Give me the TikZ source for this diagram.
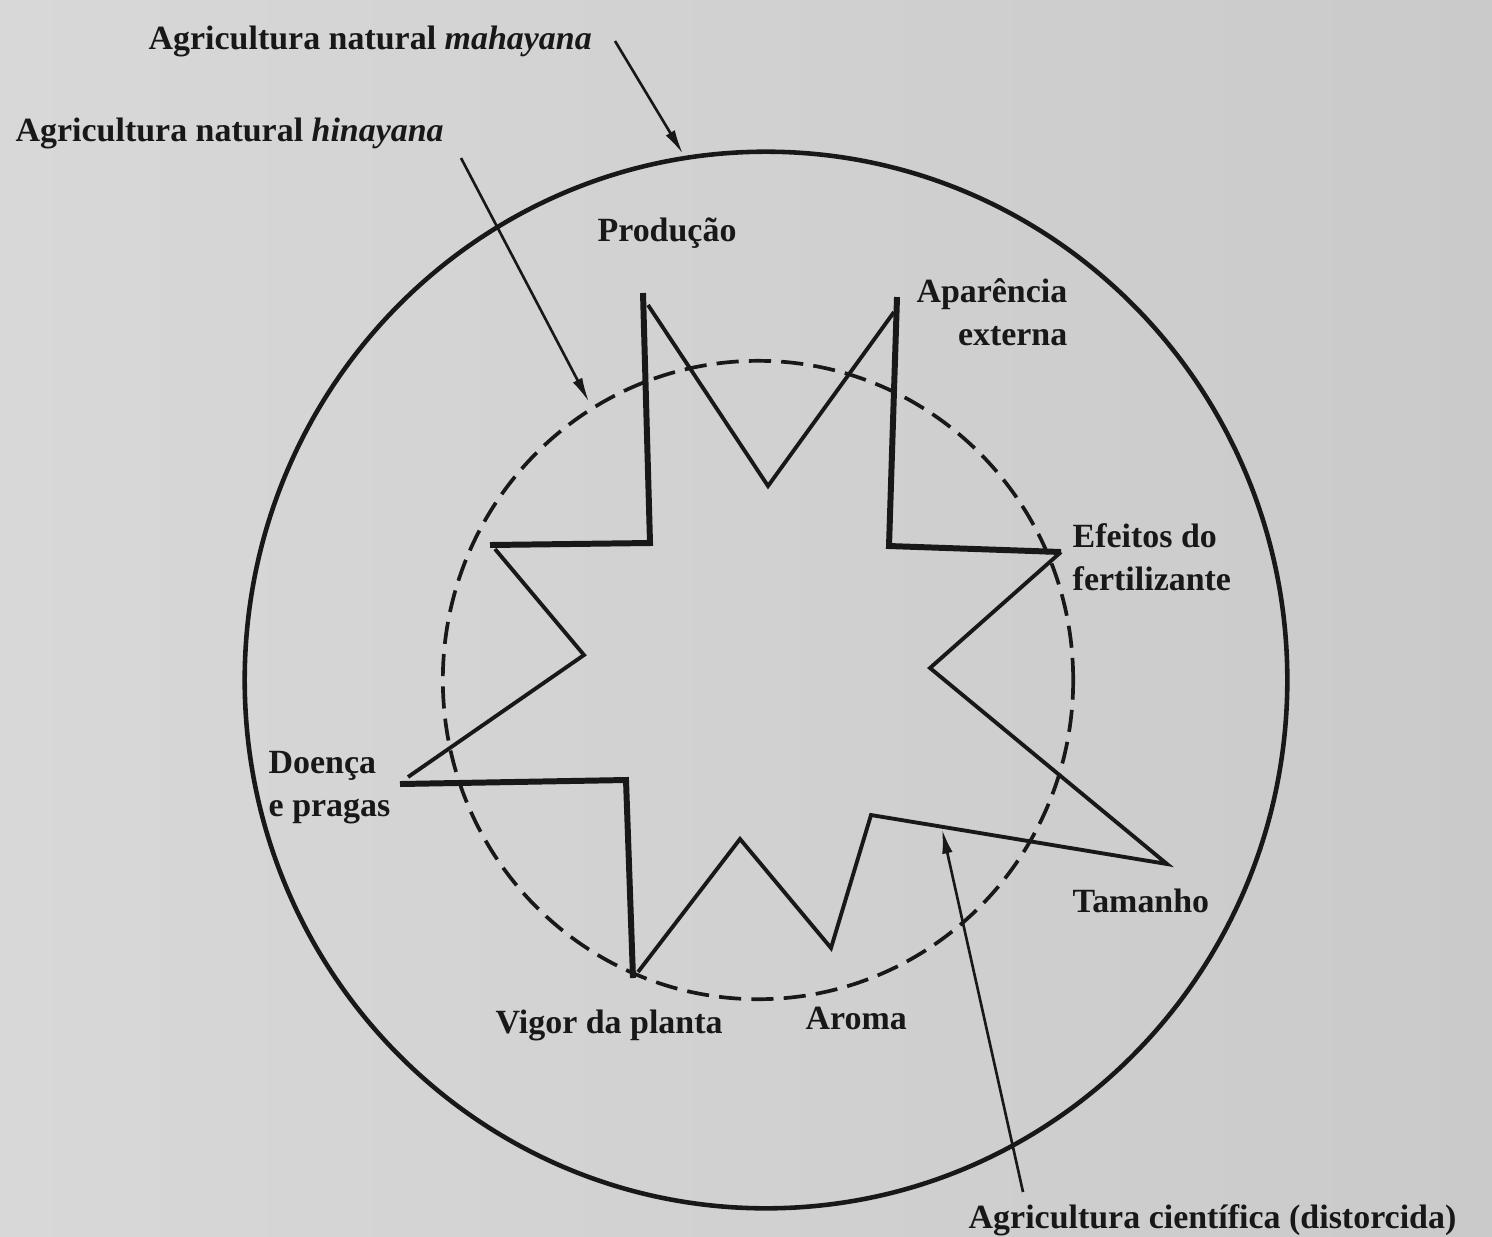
\documentclass[tikz,border=0pt]{standalone}
\usepackage{fontspec}
\setmainfont{Liberation Serif}
\usetikzlibrary{arrows.meta}
\definecolor{paper}{RGB}{216,216,216}
\definecolor{paperdark}{RGB}{202,202,202}
\definecolor{ink}{RGB}{24,24,24}
\tikzset{
  lbl/.style={inner sep=0pt, text=ink, font=\fontsize{9.65}{12.2}\selectfont\bfseries},
  outerring/.style={line width=1.3pt, draw=ink},
  innerring/.style={line width=1.05pt, draw=ink, dash pattern=on 6.3pt off 2.9pt},
  thinedge/.style={line width=1.1pt, draw=ink, line join=miter},
  thickedge/.style={line width=1.7pt, draw=ink, line join=miter},
  pointer/.style={line width=0.75pt, draw=ink, -{Latex[length=7pt,width=3pt]}}
}
\begin{document}
\begin{tikzpicture}[x=0.01cm, y=-0.01cm]
% page
\shade[left color=paper, right color=paperdark] (0,0) rectangle (1492,1236);
\useasboundingbox (0,0) rectangle (1492,1236);

% the two rings
\draw[outerring] (766,680) ellipse [x radius=5.21cm, y radius=5.28cm];
\draw[innerring] (758,680) ellipse [x radius=3.15cm, y radius=3.19cm];

% corners of the distorted star
\coordinate (p1) at (643,293);
\coordinate (p2) at (650,543);
\coordinate (p3) at (490,545);
\coordinate (p3b) at (495,549);
\coordinate (p4) at (584,655);
\coordinate (p5) at (408,777);
\coordinate (p6) at (400,784);
\coordinate (p7) at (626,780);
\coordinate (p8) at (633,978);
\coordinate (p9) at (638,972);
\coordinate (p10) at (740,839);
\coordinate (p11) at (831,948);
\coordinate (p12) at (871,815);
\coordinate (p13) at (1167,864);
\coordinate (p14) at (930,668);
\coordinate (p15) at (1061,552);
\coordinate (p16) at (889,546);
\coordinate (p17) at (897,297);
\coordinate (p18) at (894,312);
\coordinate (p19) at (768,486);
\coordinate (p20) at (648,305);

% straight arms
\draw[thickedge] (p1) -- (p2) -- (p3);
\draw[thickedge] (p6) -- (p7) -- (p8);
\draw[thickedge] (p15) -- (p16) -- (p17);
% slanted arms
\draw[thinedge] (p3b) -- (p4) -- (p5);
\draw[thinedge] (p9) -- (p10) -- (p11) -- (p12) -- (p13) -- (p14) -- (p15);
\draw[thinedge] (p18) -- (p19) -- (p20);

% labels
\node[lbl, anchor=base west] (maha) at (148,49) {Agricultura natural \textit{mahayana}};
\node[lbl, anchor=base west] (hina) at (15,141) {Agricultura natural \textit{hinayana}};
\node[lbl, anchor=base] (prod) at (667,241) {Produção};
\node[lbl, anchor=base east] (apar1) at (1068,302) {Aparência};
\node[lbl, anchor=base east] (apar2) at (1068,345) {externa};
\node[lbl, anchor=base west] (efe1) at (1072,547) {Efeitos do};
\node[lbl, anchor=base west] (efe2) at (1072,590) {fertilizante};
\node[lbl, anchor=base west] (doe1) at (268,773) {Doença};
\node[lbl, anchor=base west] (doe2) at (268,816) {e pragas};
\node[lbl, anchor=base west] (tam) at (1072,912) {Tamanho};
\node[lbl, anchor=base west] (vig) at (495,1033) {Vigor da planta};
\node[lbl, anchor=base west] (aro) at (805,1029) {Aroma};
\node[lbl, anchor=base west] (cien) at (968,1228) {Agricultura científica (distorcida)};

% pointers
\coordinate (mahaStart) at (615,41);
\coordinate (mahaTip) at (683,154);
\coordinate (hinaStart) at (461,158);
\coordinate (hinaTip) at (589,402);
\coordinate (cienStart) at (1023,1192);
\coordinate (cienTip) at (942,829);
\draw[pointer] (mahaStart) -- (mahaTip);
\draw[pointer] (hinaStart) -- (hinaTip);
\draw[pointer] (cienStart) -- (cienTip);
\end{tikzpicture}
\end{document}
